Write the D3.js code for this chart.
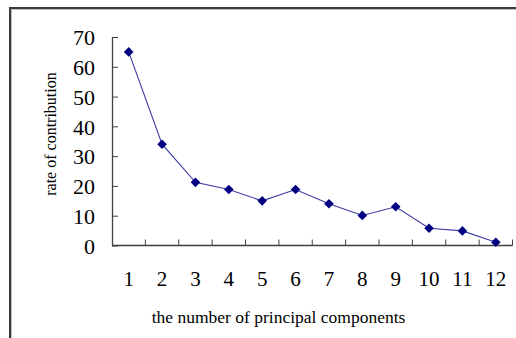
<!DOCTYPE html>
<html>
<head>
<meta charset="utf-8">
<script src="https://cdn.jsdelivr.net/npm/d3@7"></script>
<style>
  html, body { margin: 0; padding: 0; background: #fff; }
  text { font-family: "Liberation Serif", "Times New Roman", serif; fill: #000; }
</style>
</head>
<body>
<svg id="chart" width="516" height="338"></svg>
<script>
const components = [1, 2, 3, 4, 5, 6, 7, 8, 9, 10, 11, 12];
const contribution = [65, 34, 21.2, 18.8, 15, 18.8, 14, 10.1, 13, 5.8, 4.9, 1.1];
const yTicks = [0, 10, 20, 30, 40, 50, 60, 70];

const svg = d3.select('#chart');
const margin = { left: 112, top: 37, right: 3.5, bottom: 92.5 };
const width = 516 - margin.left - margin.right;
const height = 338 - margin.top - margin.bottom;

// outer frame (only top and left edges are visible in the crop)
svg.append('path')
  .attr('d', 'M10,338 V8 H516')
  .attr('fill', 'none')
  .attr('stroke', '#3a3a3a')
  .attr('stroke-width', 2);
svg.append('path')
  .attr('d', 'M11.5,338 V9.5 H516')
  .attr('fill', 'none')
  .attr('stroke', '#b0b0b0')
  .attr('stroke-width', 0.8);

const g = svg.append('g')
  .attr('transform', `translate(${margin.left},${margin.top})`);

const x = d3.scaleBand()
  .domain(components)
  .range([0, width]);

const y = d3.scaleLinear()
  .domain([0, 70])
  .range([height, 0]);

// y axis with inward ticks
const yAxis = g.append('g')
  .call(d3.axisRight(y).tickValues(yTicks).tickSize(6).tickSizeOuter(0));
yAxis.selectAll('line').attr('stroke', '#404040');
yAxis.select('.domain').attr('stroke', '#404040').attr('stroke-width', 1.3);
yAxis.selectAll('text')
  .attr('x', -17)
  .attr('text-anchor', 'end')
  .attr('dy', '0.35em')
  .style('font-size', '22px')
  .style('font-family', '"Liberation Serif", serif');

// x axis: ticks between categories, pointing up
const xAxis = g.append('g')
  .attr('transform', `translate(0,${height})`);
xAxis.append('line')
  .attr('x1', 0).attr('x2', width)
  .attr('stroke', '#404040').attr('stroke-width', 1.3);
xAxis.selectAll('.tick')
  .data(components)
  .enter()
  .append('line')
  .attr('x1', d => x(d) + x.bandwidth())
  .attr('x2', d => x(d) + x.bandwidth())
  .attr('y1', 0).attr('y2', -6)
  .attr('stroke', '#404040');
xAxis.selectAll('.lbl')
  .data(components)
  .enter()
  .append('text')
  .attr('x', d => x(d) + x.bandwidth() / 2)
  .attr('y', 33)
  .attr('dy', '0.35em')
  .attr('text-anchor', 'middle')
  .style('font-size', '21px')
  .text(d => d);

// line + diamond markers
const line = d3.line()
  .x((d, i) => x(components[i]) + x.bandwidth() / 2)
  .y(d => y(d));

g.append('path')
  .datum(contribution)
  .attr('d', line)
  .attr('fill', 'none')
  .attr('stroke', '#3b3ba0')
  .attr('stroke-width', 1.1);

g.selectAll('.pt')
  .data(contribution)
  .enter()
  .append('path')
  .attr('transform', (d, i) => `translate(${x(components[i]) + x.bandwidth() / 2},${y(d)}) rotate(45)`)
  .attr('d', 'M-3.4,-3.4 H3.4 V3.4 H-3.4 Z')
  .attr('fill', '#000080');

// axis titles
svg.append('text')
  .attr('x', 278.5)
  .attr('y', 317)
  .attr('dy', '0.35em')
  .attr('text-anchor', 'middle')
  .style('font-size', '17.5px')
  .text('the number of principal components');

svg.append('text')
  .attr('transform', 'translate(50,134) rotate(-90)')
  .attr('dy', '0.35em')
  .attr('text-anchor', 'middle')
  .style('font-size', '16px')
  .text('rate of contribution');
</script>
</body>
</html>
